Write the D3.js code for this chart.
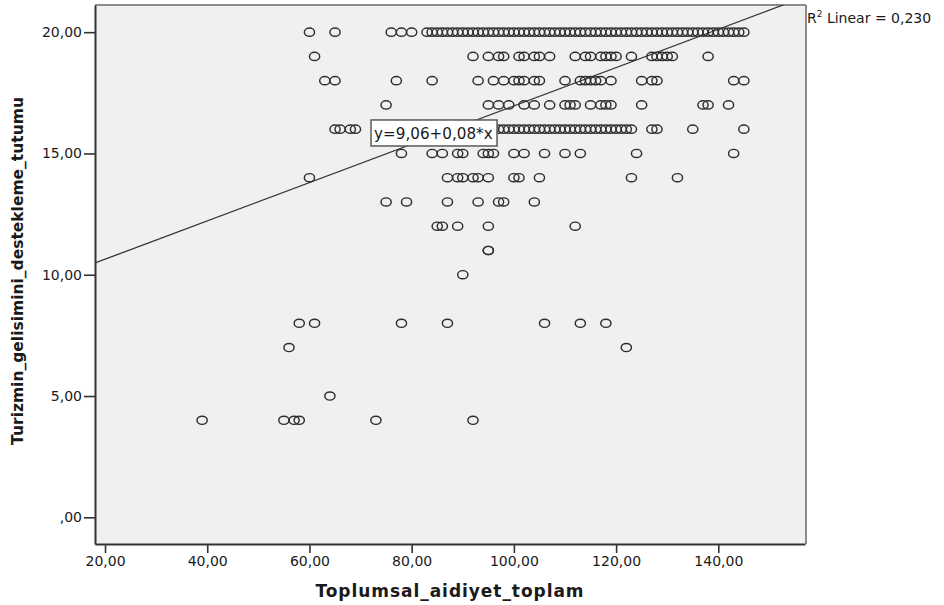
<!DOCTYPE html>
<html>
<head>
<meta charset="utf-8">
<script src="https://cdn.jsdelivr.net/npm/d3@7"></script>
<style>
  html, body { margin: 0; padding: 0; background: #ffffff; }
  svg { display: block; }
  text { font-family: "DejaVu Sans", "Liberation Sans", sans-serif; fill: #1a1a1a; }
</style>
</head>
<body>
<svg id="chart" width="944" height="605"></svg>
<script>
// ---- data ----
const xTickValues = [20, 40, 60, 80, 100, 120, 140];
const yTickValues = [0, 5, 10, 15, 20];
const xTitle = "Toplumsal_aidiyet_toplam";
const yTitle = "Turizmin_gelisimini_destekleme_tutumu";
const fitIntercept = 9.06;
const fitSlope = 0.079;
const fitLabel = "y=9,06+0,08*x";
const r2Label = "0,230";

// x values of the points at each y level
const row20 = [60, 65, 76, 78, 80, 83, 84, 85, 86, 87, 88, 89, 90, 91, 92, 93, 94, 95, 96, 97, 98, 99, 100,
  101, 102, 103, 104, 105, 106, 107, 108, 109, 110, 111, 112, 113, 114, 115, 116, 117, 118, 119, 120,
  121, 122, 123, 124, 125, 126, 127, 128, 129, 130, 131, 132, 133, 134, 135, 136, 137, 138, 139, 140,
  141, 142, 143, 144, 145];
const row19 = [61, 92, 95, 97, 98, 101, 102, 104, 105, 107, 112, 114, 115, 117, 118, 119, 120, 123, 127, 128, 129, 130, 131, 138];
const row18 = [63, 65, 77, 84, 93, 96, 98, 100, 101, 102, 104, 105, 110, 113, 114, 115, 116, 117, 119, 125, 127, 128, 143, 145];
const row17 = [75, 95, 97, 99, 102, 104, 107, 110, 111, 112, 115, 117, 118, 119, 125, 137, 138, 142];
const row16 = [65, 66, 68, 69, 95, 96, 97, 98, 99, 100, 101, 102, 103, 104, 105, 106, 107, 108, 109, 110, 111,
  112, 113, 114, 115, 116, 117, 118, 119, 120, 121, 122, 123, 127, 128, 135, 145];
const row15 = [78, 84, 86, 89, 90, 94, 95, 96, 100, 102, 106, 110, 113, 124, 143];
const row14 = [60, 87, 89, 90, 92, 93, 95, 100, 101, 105, 123, 132];
const row13 = [75, 79, 87, 93, 97, 98, 104];
const row12 = [85, 86, 89, 95, 112];
const row11 = [95, 95];
const row10 = [90];
const row8 = [58, 61, 78, 87, 106, 113, 118];
const row7 = [56, 122];
const row5 = [64];
const row4 = [39, 55, 57, 58, 73, 92];

const rows = [
  [20, row20], [19, row19], [18, row18], [17, row17], [16, row16], [15, row15], [14, row14],
  [13, row13], [12, row12], [11, row11], [10, row10], [8, row8], [7, row7], [5, row5], [4, row4]
];
const points = [];
rows.forEach(([yv, xsArr]) => xsArr.forEach(xv => points.push({ x: xv, y: yv })));

// ---- layout ----
const L = 95, R = 805, T = 5, B = 544;
const svg = d3.select("#chart");

const x = d3.scaleLinear().domain([18.04, 156.96]).range([L, R]);
const y = d3.scaleLinear().domain([-1.1, 21.12]).range([B, T]);

const fmt = d => d === 0 ? ",00" : d3.format(".2f")(d).replace(".", ",");

// plot background
svg.append("rect").attr("x", L).attr("y", T).attr("width", R - L).attr("height", B - T)
  .attr("fill", "#f0f0f0");

// clip
svg.append("clipPath").attr("id", "clip").append("rect")
  .attr("x", L).attr("y", T).attr("width", R - L).attr("height", B - T);

// top & right frame (gray)
svg.append("line").attr("x1", L).attr("x2", R + 1).attr("y1", T).attr("y2", T)
  .attr("stroke", "#8c8c8c").attr("stroke-width", 2);
svg.append("line").attr("x1", R + 1).attr("x2", R + 1).attr("y1", T).attr("y2", B)
  .attr("stroke", "#8c8c8c").attr("stroke-width", 2);

// points
svg.append("g").attr("clip-path", "url(#clip)")
  .selectAll("ellipse").data(points).join("ellipse")
  .attr("cx", d => x(d.x)).attr("cy", d => y(d.y))
  .attr("rx", 5.1).attr("ry", 4.1)
  .attr("fill", "none").attr("stroke", "#2e2e2e").attr("stroke-width", 1.45);

// fit line
const xd = x.domain();
svg.append("line").attr("clip-path", "url(#clip)")
  .attr("x1", x(xd[0])).attr("y1", y(fitIntercept + fitSlope * xd[0]))
  .attr("x2", x(xd[1])).attr("y2", y(fitIntercept + fitSlope * xd[1]))
  .attr("stroke", "#333").attr("stroke-width", 1.3);

// equation label box
const lab = svg.append("g").attr("transform", `translate(${x(72.05)},${y(16.38)})`);
lab.append("rect").attr("x", 0).attr("y", 0).attr("width", 126).attr("height", 26)
  .attr("fill", "#ffffff").attr("stroke", "#5a5a5a").attr("stroke-width", 1.5);
lab.append("text").attr("x", 3).attr("y", 19).attr("font-size", 15.2).text(fitLabel);

// axes
const yAxis = svg.append("g").attr("transform", `translate(${L},0)`)
  .call(d3.axisLeft(y).tickValues(yTickValues).tickFormat(fmt).tickSize(11).tickSizeOuter(0).tickPadding(2));
const xAxis = svg.append("g").attr("transform", `translate(0,${B})`)
  .call(d3.axisBottom(x).tickValues(xTickValues).tickFormat(fmt).tickSize(9).tickSizeOuter(0).tickPadding(3));
[yAxis, xAxis].forEach(g => {
  g.selectAll("text").attr("font-size", 14).attr("font-family", "DejaVu Sans").attr("fill", "#111");
  g.selectAll("line").attr("stroke", "#333").attr("stroke-width", 1.6);
  g.select(".domain").attr("stroke", "#333").attr("stroke-width", 2);
});

// titles
svg.append("text").attr("x", 450).attr("y", 597).attr("text-anchor", "middle")
  .attr("font-size", 17).attr("font-weight", "bold").attr("letter-spacing", 0.95).text(xTitle);
svg.append("text").attr("transform", `translate(23,271) rotate(-90)`).attr("text-anchor", "middle")
  .attr("font-size", 15.5).attr("font-weight", "bold").text(yTitle);

// R² label
const r2 = svg.append("text").attr("x", 807).attr("y", 23).attr("font-size", 14);
r2.append("tspan").text("R");
r2.append("tspan").attr("font-size", 9).attr("dy", -6).text("2");
r2.append("tspan").attr("dy", 6).text(" Linear = " + r2Label);
</script>
</body>
</html>
